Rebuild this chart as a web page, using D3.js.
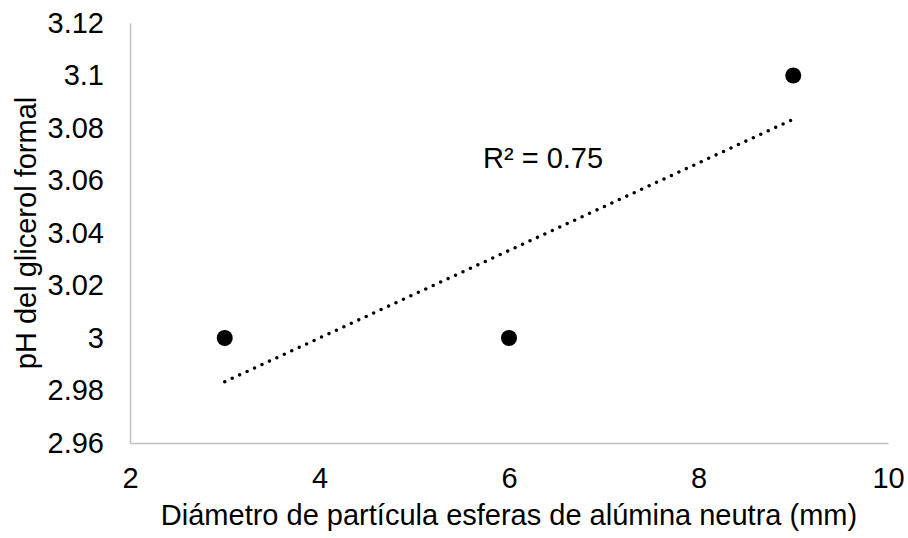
<!DOCTYPE html>
<html>
<head>
<meta charset="utf-8">
<script src="https://cdn.jsdelivr.net/npm/d3@7"></script>
<style>
  html, body { margin: 0; padding: 0; background: #fff; }
  svg { display: block; font-family: "Liberation Sans", Arial, sans-serif; }
</style>
</head>
<body>
<svg id="chart" width="908" height="538"></svg>
<script>
// Particle diameter (mm) vs pH of glycerol formal
const diameters = [3, 6, 9];
const phValues = [3.0, 3.0, 3.1];
const xTicks = [2, 4, 6, 8, 10];
const yTicks = [2.96, 2.98, 3.0, 3.02, 3.04, 3.06, 3.08, 3.1, 3.12];
const xTitle = "Diámetro de partícula esferas de alúmina neutra (mm)";
const yTitle = "pH del glicerol formal";

const FONT = "29px";
const svg = d3.select("#chart");
const plot = { left: 130, right: 888, top: 23, bottom: 443 };

const x = d3.scaleLinear().domain([2, 10]).range([plot.left, plot.right]);
const y = d3.scaleLinear().domain([2.96, 3.12]).range([plot.bottom, plot.top]);

// Axes: grey lines, no tick marks
const xAxis = d3.axisBottom(x).tickValues(xTicks).tickSize(0).tickPadding(24)
  .tickFormat(d3.format("d"));
const yAxis = d3.axisLeft(y).tickValues(yTicks).tickSize(0).tickPadding(26)
  .tickFormat(d => String(+d.toFixed(2)));

const gx = svg.append("g").attr("transform", `translate(0,${plot.bottom})`).call(xAxis);
const gy = svg.append("g").attr("transform", `translate(${plot.left},0)`).call(yAxis);
[gx, gy].forEach(g => {
  g.select(".domain").attr("stroke", "#bfbfbf").attr("stroke-width", 1.5);
  g.selectAll("text").attr("fill", "#000").style("font-size", FONT)
    .style("font-family", "'Liberation Sans', Arial, sans-serif");
});

// Linear least-squares trendline
const mx = d3.mean(diameters), my = d3.mean(phValues);
const sxy = d3.sum(diameters, (d, i) => (d - mx) * (phValues[i] - my));
const sxx = d3.sum(diameters, d => (d - mx) ** 2);
const slope = sxy / sxx, intercept = my - slope * mx;
const trend = d3.extent(diameters).map(v => [v, intercept + slope * v]);

svg.append("path")
  .datum(trend)
  .attr("d", d3.line().x(d => x(d[0])).y(d => y(d[1])))
  .attr("fill", "none")
  .attr("stroke", "#000")
  .attr("stroke-width", 3.6)
  .attr("stroke-linecap", "round")
  .attr("stroke-dasharray", "0,8.2");

// Data points
svg.append("g").selectAll("circle")
  .data(diameters)
  .join("circle")
  .attr("cx", d => x(d))
  .attr("cy", (d, i) => y(phValues[i]))
  .attr("r", 8)
  .attr("fill", "#000");

// R² annotation
svg.append("text")
  .attr("x", 483).attr("y", 168)
  .style("font-size", FONT)
  .attr("fill", "#000")
  .text("R² = 0.75");

// Axis titles
svg.append("text")
  .attr("x", (plot.left + plot.right) / 2)
  .attr("y", 525)
  .attr("text-anchor", "middle")
  .style("font-size", FONT)
  .text(xTitle);

svg.append("text")
  .attr("transform", `translate(36,${(plot.top + plot.bottom) / 2}) rotate(-90)`)
  .attr("text-anchor", "middle")
  .style("font-size", FONT)
  .text(yTitle);
</script>
</body>
</html>
